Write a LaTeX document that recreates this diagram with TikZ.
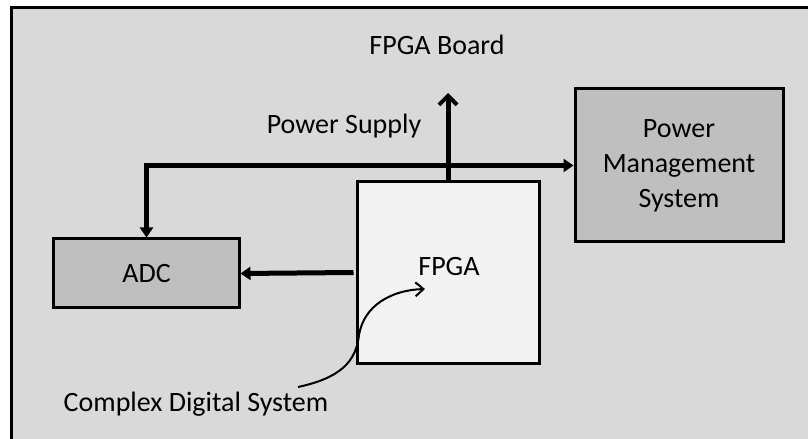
\documentclass[tikz,border=0pt]{standalone}
\usepackage{fontspec}
\setmainfont{Carlito}
\usetikzlibrary{arrows.meta}
\definecolor{bggray}{HTML}{D9D9D9}
\definecolor{boxgray}{HTML}{BFBFBF}
\definecolor{fpgafill}{HTML}{F2F2F2}
\tikzset{
  txt/.style={font=\fontsize{28bp}{35bp}\selectfont, inner sep=0pt, align=center, text=black},
  blockbox/.style={draw=black, line width=3bp, inner sep=0pt, txt},
  bus/.style={line width=5bp, draw=black},
  thin arrow/.style={line width=2bp, draw=black, -{Straight Barb[length=8bp,width=14bp,line width=2bp]}},
  filltip/.style={{Triangle[length=10bp,width=13bp]}},
}
\begin{document}
\begin{tikzpicture}[x=1bp,y=-1bp]
\useasboundingbox (0,0) rectangle (808,439);
\clip (0,0) rectangle (808,439);
% board background with frame
\draw[fill=bggray, line width=3bp] (11,8) rectangle (840,470);
% blocks
\node[blockbox, fill=fpgafill, minimum width=182bp, minimum height=181bp] (fpga) at (448,272.5) {};
\node[txt] (fpgalbl) at (449,267) {FPGA};
\node[blockbox, fill=boxgray, minimum width=185bp, minimum height=69bp] (adc) at (146.5,273.5) {ADC};
\node[blockbox, fill=boxgray, minimum width=208bp, minimum height=153bp] (pms) at (679,165.5) {Power\\Management\\System};
% labels
\node[txt] (board) at (437,45) {FPGA Board};
\node[txt] (supply) at (344,126) {Power Supply};
\node[txt] (cds) at (196,404) {Complex Digital System};
\coordinate (uptip) at (448,93);
\coordinate (cstart) at (298,387);
\coordinate (cend) at (425,289);
% connectors
\draw[bus, -{Straight Barb[length=9bp,width=18bp,line width=4bp]}] (fpga.north) -- (uptip);
\draw[bus, {Triangle[length=10bp,width=13bp]}-{Triangle[length=10bp,width=13bp]}] (adc.north) |- (pms.west);
\draw[bus, -{Triangle[length=10bp,width=13bp]}] ([xshift=-2bp]fpga.west) -- (adc.east);
\draw[thin arrow] (cstart) .. controls (340,378) and (356,362) .. (359,335)
  .. controls (364,305) and (392,290) .. (cend);
\end{tikzpicture}
\end{document}
